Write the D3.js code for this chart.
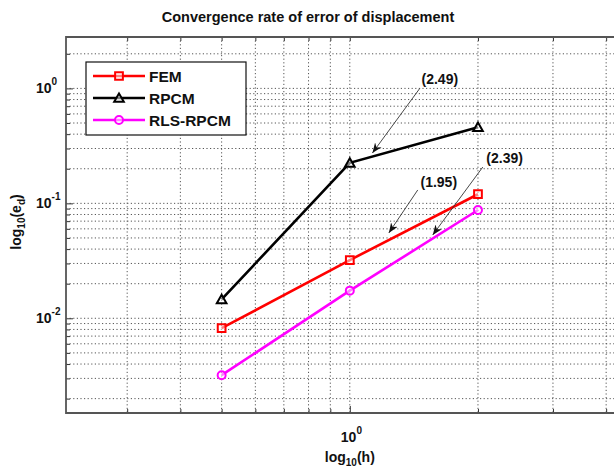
<!DOCTYPE html>
<html><head><meta charset="utf-8">
<script src="https://cdn.jsdelivr.net/npm/d3@7"></script>
<style>
body{margin:0;background:#fff;}
text{font-family:"Liberation Sans",Arial,sans-serif;font-weight:bold;fill:#111;}
</style></head>
<body><svg id="c" width="614" height="470"></svg>
<script>
// ---- data ----
const hValues = [0.5, 1, 2];
const seriesNames = ["FEM", "RPCM", "RLS-RPCM"];
const femValues = [0.0082, 0.0321, 0.12];
const rpcmValues = [0.0146, 0.225, 0.46];
const rlsValues = [0.0032, 0.0174, 0.0875];
const xTickValues = [1];
const yTickValues = [0.01, 0.1, 1];
const rateLabels = ["(2.49)", "(1.95)", "(2.39)"];
const rateTextPos = [[1.627, 1.21], [1.618, 0.1535], [2.31, 0.248]];
const rateArrowFrom = [[1.46, 1.0], [1.444, 0.1307], [2.053, 0.207]];
const rateArrowTo = [[1.13, 0.274], [1.235, 0.0553], [1.566, 0.0531]];
const xMinorGrid = [0.3,0.4,0.5,0.6,0.7,0.8,0.9,2,3,4];
const yMinorGrid = [0.002,0.003,0.004,0.005,0.006,0.007,0.008,0.009,
                    0.02,0.03,0.04,0.05,0.06,0.07,0.08,0.09,
                    0.2,0.3,0.4,0.5,0.6,0.7,0.8,0.9,2];

const svg = d3.select("#c");
const L = 66, R = 632, T = 37, B = 413;
const x = d3.scaleLog().domain([0.2155, 4.6]).range([L, R]);
const y = d3.scaleLog().domain([0.0015, 2.8]).range([B, T]);

const defs = svg.append("defs");
defs.append("clipPath").attr("id","clip").append("rect")
  .attr("x",L).attr("y",T).attr("width",R-L).attr("height",B-T);
defs.append("marker").attr("id","ah").attr("viewBox","0 0 10 10")
  .attr("refX",10).attr("refY",5).attr("markerWidth",10).attr("markerHeight",10)
  .attr("markerUnits","userSpaceOnUse").attr("orient","auto")
  .append("path").attr("d","M0,1 L10,5 L0,9 L3,5 Z").attr("fill","#111");

// grid
const g = svg.append("g");
const gridStyle = sel => sel.attr("stroke","#555").attr("stroke-width",1).attr("stroke-dasharray","1.2,2.4");
g.selectAll(".vx").data(xMinorGrid.concat(xTickValues)).join("line")
  .attr("x1",d=>x(d)).attr("x2",d=>x(d)).attr("y1",T).attr("y2",B).call(gridStyle);
g.selectAll(".hy").data(yMinorGrid.concat(yTickValues)).join("line")
  .attr("y1",d=>y(d)).attr("y2",d=>y(d)).attr("x1",L).attr("x2",R).call(gridStyle);

// axes
const xAxis = d3.axisBottom(x).tickValues(xMinorGrid.concat(xTickValues)).tickSize(-4).tickFormat("");
const yAxis = d3.axisLeft(y).tickValues(yMinorGrid.concat(yTickValues)).tickSize(-4).tickFormat("");
const ax = svg.append("g").attr("transform",`translate(0,${B})`).call(xAxis);
const ay = svg.append("g").attr("transform",`translate(${L},0)`).call(yAxis);
[ax, ay].forEach(a => { a.select(".domain").remove(); a.selectAll("line").attr("stroke","#333"); });
ax.selectAll(".tick").filter(d=>xTickValues.includes(d)).select("line").attr("y2",-7);
ay.selectAll(".tick").filter(d=>yTickValues.includes(d)).select("line").attr("x2",7);
svg.append("g").attr("transform",`translate(0,${T})`)
  .call(d3.axisTop(x).tickValues(xMinorGrid.concat(xTickValues)).tickSize(-4).tickFormat(""))
  .call(a=>{a.select(".domain").remove(); a.selectAll("line").attr("stroke","#333");});

// box (left, top, bottom)
svg.append("path").attr("d",`M${R},${T} L${L},${T} L${L},${B} L${R},${B}`)
  .attr("fill","none").attr("stroke","#555").attr("stroke-width",1.8);

// tick labels
function pow10(sel, exp){
  sel.append("tspan").text("10");
  sel.append("tspan").attr("dy",-8).attr("font-size","10px").text(exp);
}
yTickValues.forEach(v=>{
  const t = svg.append("text").attr("x",L-30).attr("y",y(v)+5).attr("font-size","14px").attr("text-anchor","start");
  pow10(t, String(Math.round(Math.log10(v))));
});
xTickValues.forEach(v=>{
  const t = svg.append("text").attr("x",x(v)-9).attr("y",B+29).attr("font-size","14px");
  pow10(t, String(Math.round(Math.log10(v))));
});

// axis labels
const xl = svg.append("text").attr("x",x(1)).attr("y",B+49).attr("text-anchor","middle").attr("font-size","14px");
xl.append("tspan").text("log");
xl.append("tspan").attr("dy",4).attr("font-size","10px").text("10");
xl.append("tspan").attr("dy",-4).text("(h)");
const yl = svg.append("text").attr("transform",`translate(21,222) rotate(-90)`).attr("text-anchor","middle").attr("font-size","14px");
yl.append("tspan").text("log");
yl.append("tspan").attr("dy",4).attr("font-size","10px").text("10");
yl.append("tspan").attr("dy",-4).text("(e");
yl.append("tspan").attr("dy",4).attr("font-size","10px").text("d");
yl.append("tspan").attr("dy",-4).text(")");

// title
svg.append("text").attr("x",308).attr("y",22).attr("text-anchor","middle").attr("font-size","14.5px")
  .text("Convergence rate of error of displacement");

// series
const series = [
  {name:seriesNames[0], vals:femValues, color:"#ff0000", marker:"square"},
  {name:seriesNames[1], vals:rpcmValues, color:"#000000", marker:"triangle"},
  {name:seriesNames[2], vals:rlsValues, color:"#ff00ff", marker:"circle"}
];
const plot = svg.append("g").attr("clip-path","url(#clip)");
const line = d3.line().x((d,i)=>x(hValues[i])).y(d=>y(d));
function drawMarker(gsel, type, color, cx, cy){
  const sym = type==="square"? d3.symbolSquare : type==="triangle"? d3.symbolTriangle : d3.symbolCircle;
  const size = type==="square"? 60 : type==="triangle"? 40 : 50;
  gsel.append("path").attr("d",d3.symbol().type(sym).size(size)())
    .attr("transform",`translate(${cx},${cy + (type==="triangle"?1:0)})`)
    .attr("fill","#fff").attr("fill-opacity",0.5).attr("stroke",color).attr("stroke-width",2);
}
series.forEach(s=>{
  plot.append("path").datum(s.vals).attr("d",line).attr("fill","none")
    .attr("stroke",s.color).attr("stroke-width",2.6);
  s.vals.forEach((v,i)=>drawMarker(plot, s.marker, s.color, x(hValues[i]), y(v)));
});

// annotations
rateLabels.forEach((lab,i)=>{
  svg.append("line").attr("x1",x(rateArrowFrom[i][0])).attr("y1",y(rateArrowFrom[i][1]))
    .attr("x2",x(rateArrowTo[i][0])).attr("y2",y(rateArrowTo[i][1]))
    .attr("stroke","#333").attr("stroke-width",0.9).attr("marker-end","url(#ah)");
  svg.append("text").attr("x",x(rateTextPos[i][0])).attr("y",y(rateTextPos[i][1])+5)
    .attr("text-anchor","middle").attr("font-size","14px").text(lab);
});

// legend
const lg = svg.append("g");
lg.append("rect").attr("x",86).attr("y",62).attr("width",160).attr("height",73)
  .attr("fill","#fff").attr("stroke","#111").attr("stroke-width",1.2);
series.forEach((s,i)=>{
  const ly = 76 + i*22;
  lg.append("line").attr("x1",93).attr("x2",145).attr("y1",ly).attr("y2",ly)
    .attr("stroke",s.color).attr("stroke-width",2.6);
  drawMarker(lg, s.marker, s.color, 119, ly);
  lg.append("text").attr("x",149).attr("y",ly+5.5).attr("font-size","15.5px").text(s.name);
});
</script></body></html>
